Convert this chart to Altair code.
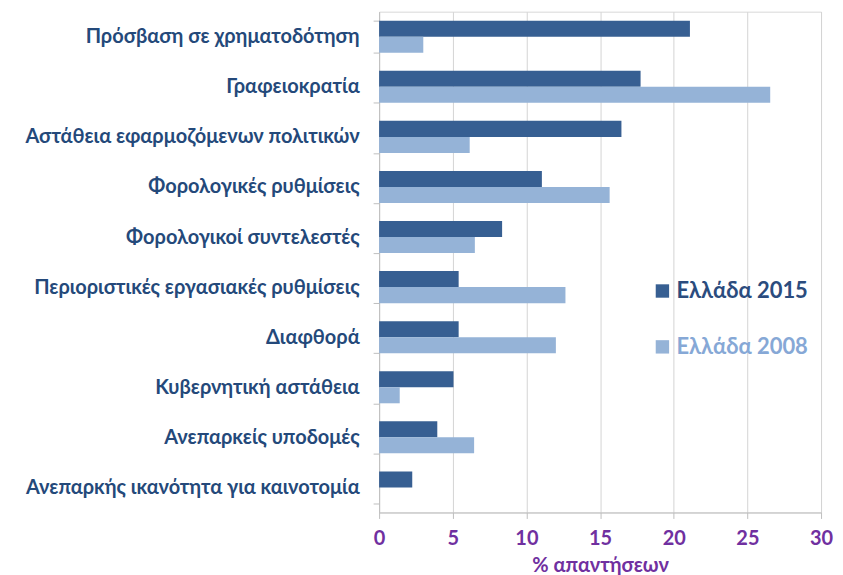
import altair as alt
import pandas as pd

categories = [
    "Πρόσβαση σε χρηματοδότηση",
    "Γραφειοκρατία",
    "Αστάθεια εφαρμοζόμενων πολιτικών",
    "Φορολογικές ρυθμίσεις",
    "Φορολογικοί συντελεστές",
    "Περιοριστικές εργασιακές ρυθμίσεις",
    "Διαφθορά",
    "Κυβερνητική αστάθεια",
    "Ανεπαρκείς υποδομές",
    "Ανεπαρκής ικανότητα για καινοτομία",
]
series_names = ["Ελλάδα 2015", "Ελλάδα 2008"]
values_2015 = [21.1, 17.75, 16.45, 11.05, 8.35, 5.4, 5.4, 5.05, 3.95, 2.25]
values_2008 = [3.0, 26.55, 6.15, 15.65, 6.5, 12.65, 12.0, 1.4, 6.45, 0.0]
x_ticks = [0, 5, 10, 15, 20, 25, 30]

bar_colors = ["#375F92", "#95B3D7"]
legend_text_colors = ["#2B4C7E", "#86A8D6"]

rows = []
for c, a, b in zip(categories, values_2015, values_2008):
    rows.append({"cat": c, "series": series_names[0], "value": a})
    rows.append({"cat": c, "series": series_names[1], "value": b})
df = pd.DataFrame(rows)

FONT = "Lato"

y_enc = alt.Y(
    "cat:N",
    sort=categories,
    scale=alt.Scale(paddingInner=0.36, paddingOuter=0.18),
    axis=alt.Axis(
        title=None,
        labelFont=FONT,
        labelFontSize=20,
        labelFontWeight="bold",
        labelColor="#24497A",
        labelPadding=14,
        labelLimit=400,
        tickBand="extent",
        tickSize=6,
        tickColor="#BFBFBF",
        domainColor="#BFBFBF",
        grid=False,
    ),
)
x_enc = alt.X(
    "value:Q",
    scale=alt.Scale(domain=[0, 30], nice=False),
    axis=alt.Axis(
        title="% απαντήσεων",
        values=x_ticks,
        titleFont=FONT,
        titleFontSize=20,
        titleFontWeight="bold",
        titleColor="#7030A0",
        titlePadding=7,
        labelFont=FONT,
        labelFontSize=20,
        labelFontWeight="bold",
        labelColor="#7030A0",
        labelPadding=10,
        labelFlush=False,
        tickColor="#BFBFBF",
        tickSize=6,
        domainColor="#BFBFBF",
        gridColor="#D4D4D4",
        grid=True,
    ),
)
yoff = alt.YOffset("series:N", sort=series_names, scale=alt.Scale(domain=series_names, paddingInner=0.0))


def layer(i, legend_y):
    d = df[df.series == series_names[i]]
    return (
        alt.Chart(d)
        .mark_bar()
        .encode(
            y=y_enc,
            x=x_enc,
            yOffset=yoff,
            color=alt.Color(
                "series:N",
                scale=alt.Scale(domain=[series_names[i]], range=[bar_colors[i]]),
                legend=alt.Legend(
                    title=None,
                    orient="none",
                    legendX=273,
                    legendY=legend_y,
                    symbolType="square",
                    symbolSize=180,
                    symbolStrokeWidth=0,
                    labelFont=FONT,
                    labelFontSize=22,
                    labelFontWeight="bold",
                    labelColor=legend_text_colors[i],
                    labelOffset=3,
                ),
            ),
        )
    )


chart = (
    alt.layer(layer(0, 269), layer(1, 325))
    .resolve_scale(color="independent")
    .resolve_legend(color="independent")
    .properties(
        width=443,
        height=502,
        autosize=alt.AutoSizeParams(type="none"),
        padding={"left": 372, "top": 3, "right": 14, "bottom": 64},
        background="white",
    )
    .configure_view(stroke="#D9D9D9", strokeWidth=1)
)

chart.save("out.html", embed_options={"renderer": "svg", "actions": False})
